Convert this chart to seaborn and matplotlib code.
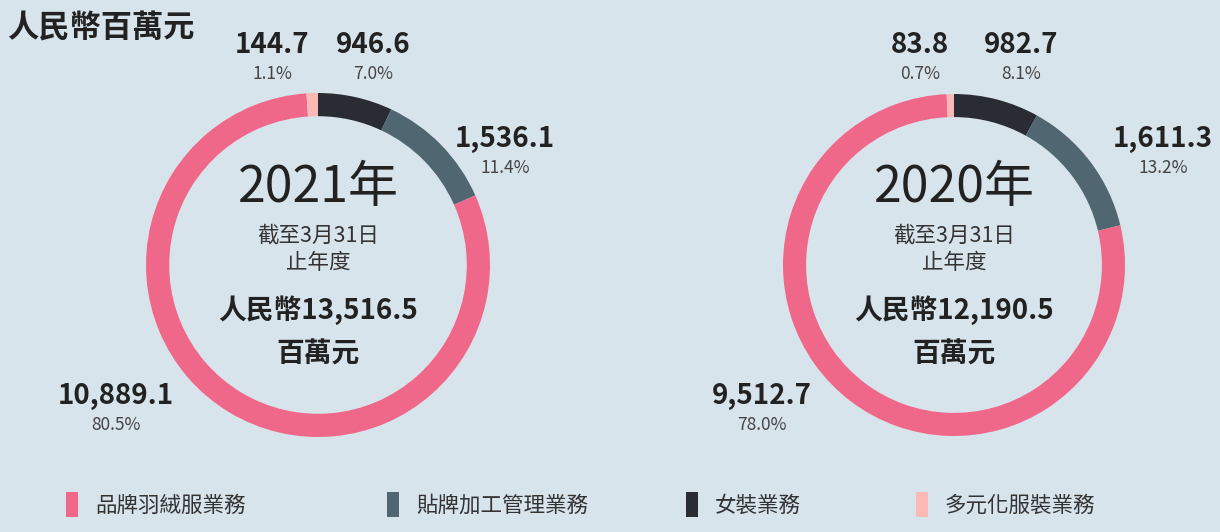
import matplotlib
matplotlib.use("Agg")
import matplotlib.pyplot as plt
import seaborn as sns

# Data
segments = ['女裝業務', '貼牌加工管理業務', '品牌羽絨服業務', '多元化服裝業務']
values_2021 = [946.6, 1536.1, 10889.1, 144.7]
values_2020 = [982.7, 1611.3, 9512.7, 83.8]
pct_2021 = ['7.0%', '11.4%', '80.5%', '1.1%']
pct_2020 = ['8.1%', '13.2%', '78.0%', '0.7%']
totals = ['13,516.5', '12,190.5']
years = ['2021年', '2020年']
legend_order = ['品牌羽絨服業務', '貼牌加工管理業務', '女裝業務', '多元化服裝業務']

sns.set_theme(style='white')
plt.rcParams['font.family'] = ['Noto Sans CJK TC', 'DejaVu Sans']

bg = '#d8e4eb'
colors = {'品牌羽絨服業務': '#f06889', '貼牌加工管理業務': '#506771',
          '女裝業務': '#2a2c34', '多元化服裝業務': '#fab9b4'}
txt = '#222222'
W, H = 1220, 532

fig = plt.figure(figsize=(12.2, 5.32), dpi=100, facecolor=bg)

# overlay axes in pixel coords for text
ov = fig.add_axes([0, 0, 1, 1])
ov.set_xlim(0, W)
ov.set_ylim(H, 0)
ov.axis('off')
ov.set_facecolor('none')


def donut(cx, cy, r, vals):
    ax = fig.add_axes([(cx - r) / W, (H - cy - r) / H, 2 * r / W, 2 * r / H])
    ax.pie(vals, colors=[colors[s] for s in segments], startangle=90,
           counterclock=False, radius=1,
           wedgeprops=dict(width=0.135, edgecolor='none'))
    ax.set_xlim(-1, 1)
    ax.set_ylim(-1, 1)
    ax.set_aspect('equal')
    ax.axis('off')
    return ax


donut(318, 265, 172, values_2021)
donut(954, 265, 171, values_2020)


def label(x, y, val, pct):
    ov.text(x, y, f'{val:,.1f}', ha='center', va='center', fontsize=20,
            fontweight='bold', color=txt)
    ov.text(x, y + 29, pct, ha='center', va='center', fontsize=12.5,
            color='#444444')


# 2021 labels
label(272, 45, values_2021[3], pct_2021[3])
label(373, 45, values_2021[0], pct_2021[0])
label(505, 139, values_2021[1], pct_2021[1])
label(116, 396, values_2021[2], pct_2021[2])
# 2020 labels
label(920, 45, values_2020[3], pct_2020[3])
label(1021, 45, values_2020[0], pct_2020[0])
label(1163, 139, values_2020[1], pct_2020[1])
label(762, 396, values_2020[2], pct_2020[2])

for cx, yr, tot in zip([318, 954], years, totals):
    ov.text(cx, 188, yr, ha='center', va='center', fontsize=36, color=txt)
    ov.text(cx, 236, '截至3月31日', ha='center', va='center', fontsize=15.5,
            color='#333333')
    ov.text(cx, 263, '止年度', ha='center', va='center', fontsize=15.5,
            color='#333333')
    ov.text(cx, 310, '人民幣' + tot, ha='center', va='center', fontsize=20,
            fontweight='bold', color=txt)
    ov.text(cx, 355, '百萬元', ha='center', va='center', fontsize=20,
            fontweight='bold', color=txt)

ov.text(7, 28, '人民幣百萬元', ha='left', va='center', fontsize=22.5,
        fontweight='bold', color=txt)

# legend
leg_x = [66, 387, 686, 916]
for x, name in zip(leg_x, legend_order):
    ov.add_patch(plt.Rectangle((x, 492), 12, 25, color=colors[name], lw=0))
    ov.text(x + 29, 506, name, ha='left', va='center', fontsize=15.5,
            color='#333333')

fig.savefig('out.png', dpi=100, facecolor=bg)
